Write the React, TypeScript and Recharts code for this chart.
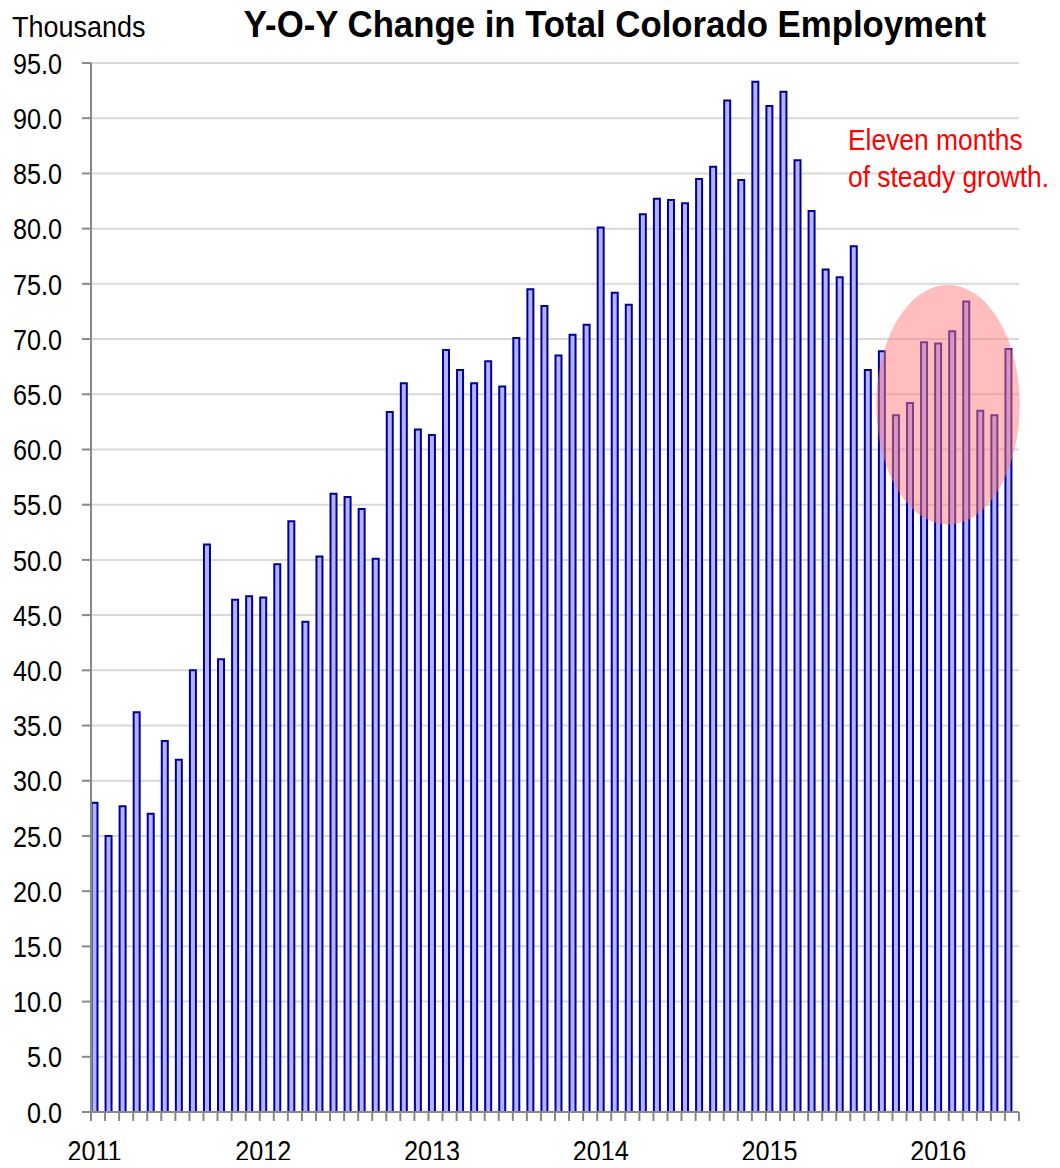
import React from "react";
import { BarChart, Bar, XAxis, YAxis, CartesianGrid, ReferenceArea } from "recharts";

const years = ["2011", "2012", "2013", "2014", "2015", "2016"];
const monthNames = ["Jan", "Feb", "Mar", "Apr", "May", "Jun", "Jul", "Aug", "Sep", "Oct", "Nov", "Dec"];

// Y-O-Y change in total employment, thousands (Jan 2011 .. Jun 2016)
const yoyChange = [
  28.0, 25.0, 27.7, 36.2, 27.0, 33.6, 31.9, 40.0, 51.4, 41.0, 46.4, 46.7,
  46.6, 49.6, 53.5, 44.4, 50.3, 56.0, 55.7, 54.6, 50.1, 63.4, 66.0, 61.8,
  61.3, 69.0, 67.2, 66.0, 68.0, 65.7, 70.1, 74.5, 73.0, 68.5, 70.4, 71.3,
  80.1, 74.2, 73.1, 81.3, 82.7, 82.6, 82.3, 84.5, 85.6, 91.6, 84.4, 93.3,
  91.1, 92.4, 86.2, 81.6, 76.3, 75.6, 78.4, 67.2, 68.9, 63.1, 64.2, 69.7,
  69.6, 70.7, 73.4, 63.5, 63.1, 69.1,
];

const yTicks = [0, 5, 10, 15, 20, 25, 30, 35, 40, 45, 50, 55, 60, 65, 70, 75, 80, 85, 90, 95];

// highlighted stretch (bar index range and value range covered by the ellipse)
const highlightX = [55.6, 65.8];
const highlightY = [53.2, 74.9];

const data = yoyChange.map((value, i) => ({
  idx: i,
  month: `${monthNames[i % 12]} ${years[Math.floor(i / 12)]}`,
  value,
}));

const xDomain = [-0.25, yoyChange.length - 0.25];
const boundaryTicks = [...yoyChange.map((_, i) => i - 0.25), yoyChange.length - 0.25];
const yearTicks = years.map((_, i) => i * 12);

const FONT = "'Liberation Sans', Arial, sans-serif";

// the original uses a condensed face; squeeze regular Liberation Sans horizontally
const NarrowText = ({ x, y, squeeze, children, ...rest }: any) => (
  <g transform={`translate(${x},${y})`}>
    <text transform={`scale(${squeeze},1)`} fontFamily={FONT} {...rest}>
      {children}
    </text>
  </g>
);

const YTick = (props: any) => {
  const { x, y, payload } = props;
  return (
    <NarrowText x={x} y={y} squeeze={0.84} textAnchor="end" dy="0.355em" fontSize={30} fill="#000">
      {Number(payload.value).toFixed(1)}
    </NarrowText>
  );
};

const YearTick = (props: any) => {
  const { x, y, payload } = props;
  return (
    <NarrowText x={x} y={y} squeeze={0.84} textAnchor="middle" dy="0.71em" fontSize={30} fill="#000">
      {years[Math.round(payload.value / 12)]}
    </NarrowText>
  );
};

const EllipseShape = (props: any) => {
  const { x, y, width, height } = props;
  return (
    <ellipse
      cx={x + width / 2}
      cy={y + height / 2}
      rx={Math.abs(width) / 2}
      ry={Math.abs(height) / 2}
      fill="#ff7b7b"
      fillOpacity={0.5}
    />
  );
};

export default function App() {
  return (
    <div style={{ position: "relative", width: 1060, height: 1168, margin: -8, background: "#fff", fontFamily: FONT }}>
      <BarChart
        width={1060}
        height={1168}
        data={data}
        margin={{ top: 63, right: 41, left: 0, bottom: 0 }}
      >
        <CartesianGrid vertical={false} stroke="#d9d9d9" strokeWidth={2} />
        <XAxis
          xAxisId="ticks"
          type="number"
          dataKey="idx"
          domain={xDomain}
          allowDataOverflow
          ticks={boundaryTicks}
          interval={0}
          tickFormatter={() => ""}
          tickSize={9}
          height={14}
          stroke="#888"
          strokeWidth={2}
          tickLine={{ stroke: "#888", strokeWidth: 2 }}
        />
        <XAxis
          xAxisId="years"
          type="number"
          dataKey="idx"
          domain={xDomain}
          allowDataOverflow
          ticks={yearTicks}
          interval={0}
          axisLine={false}
          tickLine={false}
          tickSize={0}
          tickMargin={14}
          height={42}
          tick={<YearTick />}
        />
        <YAxis
          domain={[0, 95]}
          ticks={yTicks}
          interval={0}
          width={91}
          tickSize={9}
          tickMargin={20}
          stroke="#888"
          strokeWidth={2}
          tickLine={{ stroke: "#888", strokeWidth: 2 }}
          tick={<YTick />}
        />
        <Bar
          xAxisId="ticks"
          dataKey="value"
          barSize={6}
          fill="#b3b3ff"
          stroke="#000099"
          strokeWidth={2}
          isAnimationActive={false}
        />
        <ReferenceArea
          xAxisId="ticks"
          x1={highlightX[0]}
          x2={highlightX[1]}
          y1={highlightY[0]}
          y2={highlightY[1]}
          ifOverflow="visible"
          zIndex={1000}
          shape={EllipseShape}
        />
      </BarChart>
      <svg
        width={1060}
        height={1168}
        style={{ position: "absolute", left: 0, top: 0, pointerEvents: "none" }}
      >
        <NarrowText x={615} y={37} squeeze={0.94} textAnchor="middle" fontSize={37} fontWeight="bold" fill="#000">
          Y-O-Y Change in Total Colorado Employment
        </NarrowText>
        <NarrowText x={12} y={37} squeeze={0.9} fontSize={30} fill="#000">
          Thousands
        </NarrowText>
        <NarrowText x={848} y={150} squeeze={0.88} fontSize={30} fill="#ff0000">
          Eleven months
        </NarrowText>
        <NarrowText x={848} y={187} squeeze={0.88} fontSize={30} fill="#ff0000">
          of steady growth.
        </NarrowText>
      </svg>
    </div>
  );
}
